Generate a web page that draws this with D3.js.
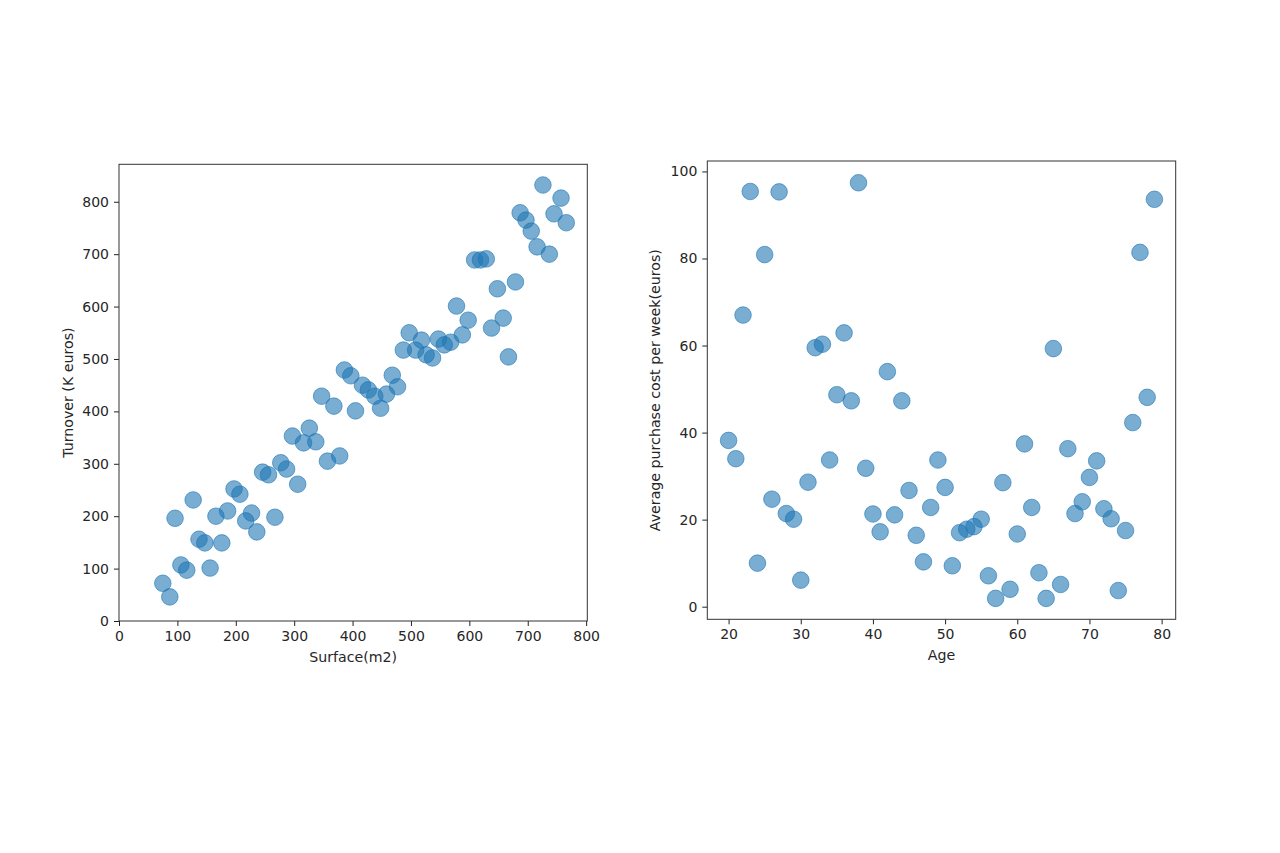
<!DOCTYPE html>
<html>
<head>
<meta charset="utf-8">
<script src="https://cdn.jsdelivr.net/npm/d3@7"></script>
<style>
  body { margin: 0; background: #fff; }
  text { font-family: "DejaVu Sans", sans-serif; fill: #262626; }
</style>
</head>
<body>
<svg id="fig" width="1280" height="853"></svg>
<script>
// left chart: surface vs turnover
surface = [75, 87, 96, 106, 116, 127, 137, 147, 156, 166, 176, 186, 197, 207, 217, 227, 236, 246, 256, 267,
           277, 287, 297, 306, 316, 326, 337, 347, 357, 368, 378, 386, 397, 405, 417, 427, 438, 448, 458, 468,
           477, 487, 497, 508, 518, 526, 537, 547, 557, 568, 578, 588, 598, 609, 619, 629, 638, 648, 658, 667,
           679, 687, 697, 706, 716, 726, 737, 745, 757, 766];
turnover = [72, 46, 196, 107, 97, 231, 156, 149, 101, 200, 149, 210, 252, 242, 191, 206, 170, 284, 279, 198,
            302, 290, 353, 261, 340, 368, 342, 429, 305, 410, 315, 479, 468, 401, 450, 441, 429, 406, 433, 469,
            447, 517, 550, 517, 536, 508, 502, 538, 527, 532, 601, 546, 574, 689, 689, 691, 559, 634, 578, 504,
            647, 779, 765, 744, 714, 832, 700, 777, 807, 760];
surfaceTicks = [0, 100, 200, 300, 400, 500, 600, 700, 800];
turnoverTicks = [0, 100, 200, 300, 400, 500, 600, 700, 800];

// right chart: age vs weekly purchase cost
ages = [20, 21, 22, 23, 24, 25, 26, 27, 28, 29, 30, 31, 32, 33, 34, 35, 36, 37, 38, 39,
        40, 41, 42, 43, 44, 45, 46, 47, 48, 49, 50, 51, 52, 53, 54, 55, 56, 57, 58, 59,
        60, 61, 62, 63, 64, 65, 66, 67, 68, 69, 70, 71, 72, 73, 74, 75, 76, 77, 78, 79];
cost = [38.2, 34.0, 67.0, 95.4, 10.0, 80.9, 24.7, 95.3, 21.4, 20.1, 6.1, 28.6, 59.5, 60.3, 33.7, 48.7, 62.9, 47.3, 97.4, 31.8,
        21.3, 17.2, 54.0, 21.1, 47.3, 26.7, 16.4, 10.3, 22.8, 33.7, 27.4, 9.4, 17.0, 17.8, 18.4, 20.1, 7.1, 1.9, 28.5, 4.0,
        16.7, 37.4, 22.8, 7.8, 1.9, 59.3, 5.1, 36.3, 21.4, 24.1, 29.7, 33.5, 22.5, 20.2, 3.7, 17.5, 42.3, 81.4, 48.1, 93.6];
ageTicks = [20, 30, 40, 50, 60, 70, 80];
costTicks = [0, 20, 40, 60, 80, 100];

var svg = d3.select("#fig");

function scatter(box, xs, ys, xDomain, yDomain, xTicks, yTicks, xLabel, yLabel) {
    var x = d3.scaleLinear().domain(xDomain).range([box.left, box.right]);
    var y = d3.scaleLinear().domain(yDomain).range([box.bottom, box.top]);
    var g = svg.append("g");

    for (var i = 0; i < xs.length; i++) {
        g.append("circle")
            .attr("cx", x(xs[i])).attr("cy", y(ys[i])).attr("r", 8.3)
            .style("fill", "#1f77b4").style("fill-opacity", 0.6)
            .style("stroke", "#1f77b4").style("stroke-opacity", 0.6).style("stroke-width", 1);
    }

    var xa = g.append("g").attr("transform", "translate(0," + box.bottom + ")")
        .call(d3.axisBottom(x).tickValues(xTicks).tickSize(5).tickPadding(5).tickSizeOuter(0));
    var ya = g.append("g").attr("transform", "translate(" + box.left + ",0)")
        .call(d3.axisLeft(y).tickValues(yTicks).tickSize(5).tickPadding(5).tickSizeOuter(0));
    [xa, ya].forEach(function (a) {
        a.select(".domain").remove();
        a.selectAll("line").style("stroke", "#222");
        a.selectAll("text").style("font-size", "14px").style("fill", "#262626");
    });

    g.append("rect")
        .attr("x", box.left).attr("y", box.top)
        .attr("width", box.right - box.left).attr("height", box.bottom - box.top)
        .style("fill", "none").style("stroke", "#333").style("stroke-width", 1);

    g.append("text")
        .attr("x", (box.left + box.right) / 2).attr("y", box.bottom + 41)
        .attr("text-anchor", "middle").style("font-size", "14.2px").text(xLabel);
    g.append("text")
        .attr("transform", "translate(" + box.yLabelX + "," + (box.top + box.bottom) / 2 + ") rotate(-90)")
        .attr("text-anchor", "middle").style("font-size", "14.2px").text(yLabel);
}

scatter({left: 119, right: 587.3, top: 164.3, bottom: 621, yLabelX: 72.5},
    surface, turnover, [0, 802], [0, 871.5], surfaceTicks, turnoverTicks,
    "Surface(m2)", "Turnover (K euros)");

scatter({left: 707.3, right: 1175.7, top: 161, bottom: 619.3, yLabelX: 660},
    ages, cost, [17.05, 81.95], [-2.9, 102.4], ageTicks, costTicks,
    "Age", "Average purchase cost per week(euros)");
</script>
</body>
</html>
